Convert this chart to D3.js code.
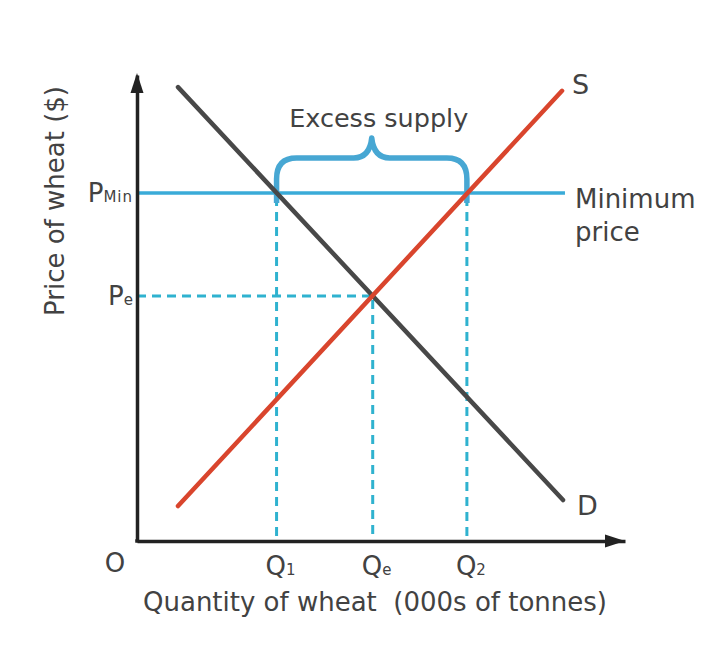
<!DOCTYPE html>
<html>
<head>
<meta charset="utf-8">
<script src="https://cdn.jsdelivr.net/npm/d3@7"></script>
<style>
  html, body { margin: 0; padding: 0; background: #fff; }
  svg { display: block; }
  text { font-family: "DejaVu Sans", Verdana, sans-serif; fill: #424242; }
</style>
</head>
<body>
<svg id="chart" width="724" height="670"></svg>
<script>
// ---- data (in abstract units 0..10) ----
const demandLine = [{q: 0.84, p: 9.74}, {q: 8.73, p: 0.88}];
const supplyLine = [{q: 0.84, p: 0.75}, {q: 8.71, p: 9.66}];
const minimumPrice = 7.47;
const minPriceLineEnd = 8.77;
const equilibrium = {q: 4.83, p: 5.26};
const quantityValues = [2.86, 4.83, 6.76];
const quantityLabels = [["Q", "1"], ["Q", "e"], ["Q", "2"]];
const priceValues = [7.47, 5.26];
const priceLabels = [["P", "Min"], ["P", "e"]];
const xTitle = "Quantity of wheat  (000s of tonnes)";
const yTitle = "Price of wheat ($)";
const braceLabel = "Excess supply";

// ---- scales ----
const x = d3.scaleLinear().domain([0, 10]).range([137, 625]);
const y = d3.scaleLinear().domain([0, 10]).range([541, 75]);
const svg = d3.select("#chart");

const axisColor = "#222";
const cyan = "#3aabd8";
const dashCyan = "#2fb2cf";

// dashed guide lines
const dash = "9,6";
svg.append("line")
  .attr("x1", x(0)).attr("x2", x(equilibrium.q))
  .attr("y1", y(equilibrium.p)).attr("y2", y(equilibrium.p))
  .attr("stroke", dashCyan).attr("stroke-width", 3).attr("stroke-dasharray", dash);
const vTops = [minimumPrice, equilibrium.p, minimumPrice];
quantityValues.forEach((q, i) => {
  svg.append("line")
    .attr("x1", x(q)).attr("x2", x(q))
    .attr("y1", y(vTops[i]) + 4).attr("y2", y(0))
    .attr("stroke", dashCyan).attr("stroke-width", 3).attr("stroke-dasharray", dash);
});

// minimum price line
svg.append("line")
  .attr("x1", x(0)).attr("x2", x(minPriceLineEnd))
  .attr("y1", y(minimumPrice)).attr("y2", y(minimumPrice))
  .attr("stroke", cyan).attr("stroke-width", 3.5);

// brace
const x1 = x(quantityValues[0]), x2 = x(quantityValues[2]);
const xm = (x1 + x2) / 2;
const yP = y(minimumPrice);
const yb = yP - 35;
const bp = d3.path();
bp.moveTo(x1, yP + 10);
bp.lineTo(x1, yP - 14);
bp.quadraticCurveTo(x1, yb, x1 + 20, yb);
bp.lineTo(xm - 18, yb);
bp.quadraticCurveTo(xm - 2, yb, xm, yb - 20);
bp.quadraticCurveTo(xm + 2, yb, xm + 18, yb);
bp.lineTo(x2 - 20, yb);
bp.quadraticCurveTo(x2, yb, x2, yP - 14);
bp.lineTo(x2, yP + 10);
svg.append("path").attr("d", bp.toString())
  .attr("fill", "none").attr("stroke", "#47a7d3").attr("stroke-width", 5.5)
  .attr("stroke-linejoin", "round");

// demand & supply
const line = d3.line().x(d => x(d.q)).y(d => y(d.p));
svg.append("path").datum(demandLine).attr("d", line)
  .attr("fill", "none").attr("stroke", "#484848").attr("stroke-width", 4.5).attr("stroke-linecap", "round");
svg.append("path").datum(supplyLine).attr("d", line)
  .attr("fill", "none").attr("stroke", "#d9452d").attr("stroke-width", 4.5).attr("stroke-linecap", "round");

// axes
const gx = svg.append("g").attr("transform", `translate(0,${y(0)})`)
  .call(d3.axisBottom(x).tickValues([]).tickSizeOuter(0));
gx.select(".domain").attr("stroke", axisColor).attr("stroke-width", 3.5);
const gy = svg.append("g").attr("transform", `translate(${x(0)},0)`)
  .call(d3.axisLeft(y).tickValues([]).tickSizeOuter(0));
gy.select(".domain").attr("stroke", axisColor).attr("stroke-width", 3.5);
svg.append("rect").attr("x", x(0) - 1.75).attr("y", y(0) - 1.75).attr("width", 3.5).attr("height", 3.5).attr("fill", axisColor);
svg.append("path").attr("d", `M${x(10)},${y(0)} L${x(10) - 20},${y(0) - 6.5} L${x(10) - 20},${y(0) + 6.5} Z`).attr("fill", axisColor);
svg.append("path").attr("d", `M${x(0)},${y(10) - 2} L${x(0) - 6.5},${y(10) + 18} L${x(0) + 6.5},${y(10) + 18} Z`).attr("fill", axisColor);

// quantity labels
quantityLabels.forEach((lab, i) => {
  const t = svg.append("text").attr("x", x(quantityValues[i]) - 11).attr("y", y(0) + 34);
  t.append("tspan").attr("font-size", 26).text(lab[0]);
  t.append("tspan").attr("font-size", 15).text(lab[1]);
});
// price labels
priceLabels.forEach((lab, i) => {
  const t = svg.append("text").attr("x", x(0) - 4).attr("y", y(priceValues[i]) + 9).attr("text-anchor", "end");
  t.append("tspan").attr("font-size", 26).text(lab[0]);
  t.append("tspan").attr("font-size", lab[1].length > 1 ? 15 : 15).attr("letter-spacing", lab[1].length > 1 ? 1 : 0).text(lab[1]);
});
svg.append("text").attr("x", x(0) - 22).attr("y", y(0) + 31).attr("text-anchor", "middle").attr("font-size", 26).text("O");

// curve labels
svg.append("text").attr("x", x(supplyLine[1].q) + 10).attr("y", y(supplyLine[1].p) + 3).attr("font-size", 27).text("S");
svg.append("text").attr("x", x(demandLine[1].q) + 14).attr("y", y(demandLine[1].p) + 15).attr("font-size", 27).text("D");
svg.append("text").attr("x", x(minPriceLineEnd) + 10).attr("y", y(minimumPrice) + 15).attr("font-size", 26).text("Minimum");
svg.append("text").attr("x", x(minPriceLineEnd) + 10).attr("y", y(minimumPrice) + 48).attr("font-size", 26).text("price");
svg.append("text").attr("x", xm + 7).attr("y", yb - 31).attr("text-anchor", "middle").attr("font-size", 25.5).text(braceLabel);

// axis titles
svg.append("text").attr("x", 375).attr("y", 611).attr("text-anchor", "middle").attr("font-size", 26)
  .style("white-space", "pre").text(xTitle);
svg.append("text").attr("transform", "translate(64,201) rotate(-90)").attr("text-anchor", "middle").attr("font-size", 26).text(yTitle);
</script>
</body>
</html>
